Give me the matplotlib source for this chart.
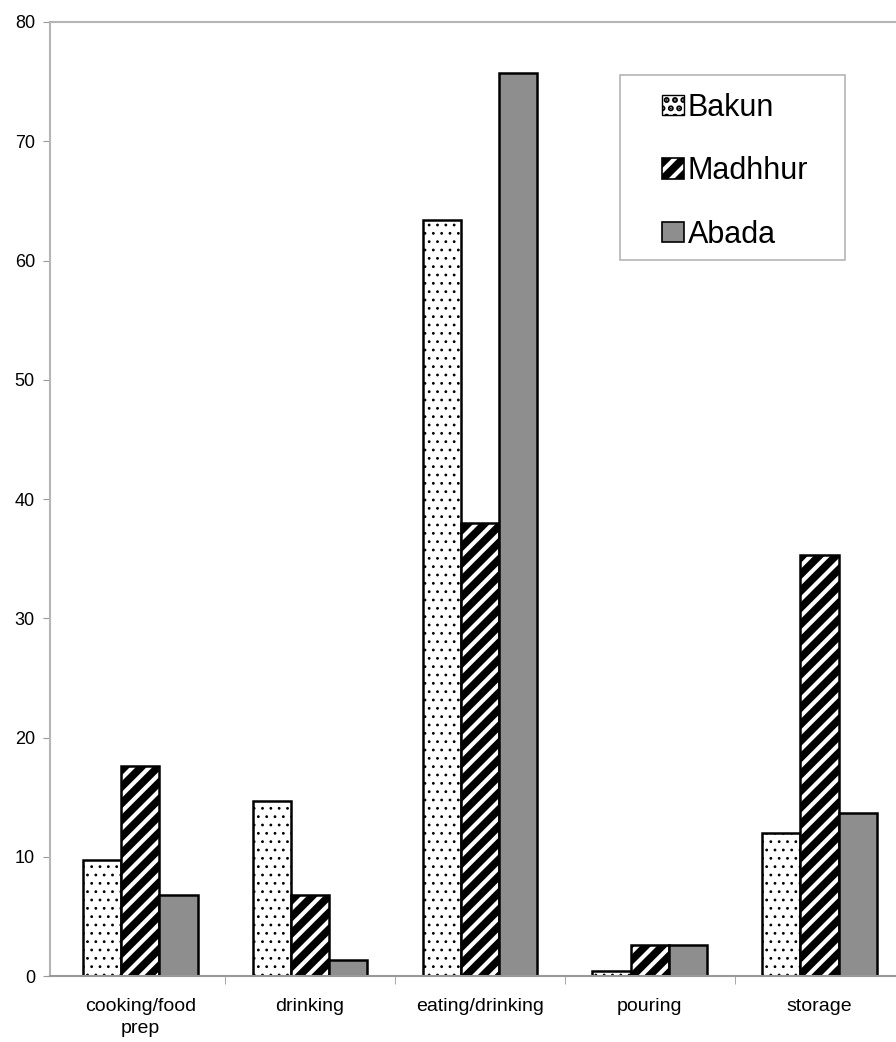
import numpy as np
import matplotlib
matplotlib.use("Agg")
import matplotlib.pyplot as plt
from matplotlib.patches import Patch, Rectangle
from matplotlib.legend_handler import HandlerTuple

plt.rcParams['font.family'] = ['Liberation Sans', 'DejaVu Sans']

categories = ['cooking/food\nprep', 'drinking', 'eating/drinking', 'pouring', 'storage']
bakun = [9.7, 14.7, 63.4, 0.4, 12.0]
madhhur = [17.6, 6.8, 38.0, 2.6, 35.3]
abada = [6.8, 1.35, 75.7, 2.6, 13.7]

fig = plt.figure(figsize=(8.96, 10.42), dpi=100)
ax = fig.add_axes([0.056, 0.0633, 0.944, 0.9156])

x = np.arange(len(categories))
w = 0.225

# Bakun: white with sparse dots
plt.rcParams['hatch.linewidth'] = 0.8
ax.bar(x - w, bakun, w, facecolor='white', edgecolor='black', hatch='..', linewidth=0)
ax.bar(x - w, bakun, w, fill=False, edgecolor='black', linewidth=1.8)
h_bakun = Patch(facecolor='white', edgecolor='black', hatch='..', label='Bakun')

# Madhhur: black with white stripes
plt.rcParams['hatch.linewidth'] = 3.0
ax.bar(x, madhhur, w, facecolor='black', edgecolor='white', hatch='//', linewidth=0)
ax.bar(x, madhhur, w, fill=False, edgecolor='black', linewidth=1.8)
h_madh = Patch(facecolor='black', edgecolor='white', hatch='//', linewidth=0)
h_madh_edge = Patch(fill=False, edgecolor='black', linewidth=1.2)

# Abada: grey
ax.bar(x + w, abada, w, facecolor='#8e8e8e', edgecolor='black', linewidth=1.8)
h_abada = Patch(facecolor='#8e8e8e', edgecolor='black', linewidth=1.2, label='Abada')

ax.set_xlim(-0.53, 4.45)
ax.set_ylim(0, 80)
ax.set_yticks(range(0, 81, 10))
ax.set_xticks(x)
ax.set_xticklabels(categories, fontsize=14, linespacing=1.4)
ax.tick_params(axis='y', labelsize=13, length=5, color='#999999', pad=6)
ax.tick_params(axis='x', length=0, pad=16)
ax.set_xticks(x[:-1] + 0.5, minor=True)
ax.tick_params(axis='x', which='minor', length=6, color='#999999')

for s in ['left', 'top', 'bottom']:
    ax.spines[s].set_color('#b5b5b5')
    ax.spines[s].set_linewidth(1.5)
ax.spines['right'].set_visible(False)
ax.spines['bottom'].set_color('#999999')

# legend frame drawn separately so its size can be set exactly
ax.add_patch(Rectangle((0.674, 0.7505), 0.266, 0.194, transform=ax.transAxes,
                       facecolor='white', edgecolor='#b5b5b5', linewidth=1.2, zorder=4))
leg = ax.legend(handles=[h_bakun, (h_madh, h_madh_edge), h_abada],
                labels=['Bakun', 'Madhhur', 'Abada'],
                handler_map={tuple: HandlerTuple(ndivide=1, pad=0)},
                loc='upper left', bbox_to_anchor=(0.723, 0.926), frameon=False,
                fontsize=22, labelspacing=1.1, handlelength=0.72, handleheight=0.64,
                handletextpad=0.13, borderpad=0, borderaxespad=0)
leg.set_zorder(5)

fig.savefig('out.png', dpi=100)
